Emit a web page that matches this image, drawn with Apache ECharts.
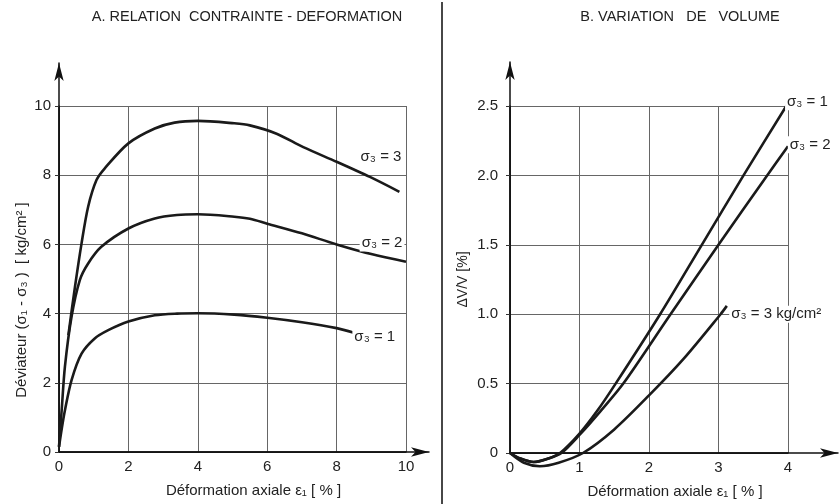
<!DOCTYPE html>
<html>
<head>
<meta charset="utf-8">
<script src="https://cdn.jsdelivr.net/npm/echarts@6/dist/echarts.min.js"></script>
<style>
html,body{margin:0;padding:0;background:#fff}
#main{width:840px;height:504px}
</style>
</head>
<body>
<div id="main"></div>
<script>
// A. deviateur (kg/cm2) en fonction de la deformation axiale (%)
var devSig1 = [[0,0.15],[0.08,0.68],[0.17,1.2],[0.36,2.07],[0.65,2.84],[1.03,3.28],[1.42,3.52],[2.0,3.77],[2.76,3.95],[3.4,4.0],[4.0,4.01],[5.05,3.97],[6.0,3.88],[7.0,3.75],[8.0,3.58],[8.5,3.45]];
var devSig2 = [[0,0.15],[0.08,1.25],[0.17,2.46],[0.36,3.9],[0.6,4.97],[0.84,5.45],[1.22,5.93],[2.0,6.46],[2.76,6.75],[3.4,6.85],[4.0,6.87],[5.05,6.8],[5.5,6.74],[6.0,6.6],[7.0,6.32],[8.0,6.0],[9.0,5.72],[10,5.5]];
var devSig3 = [[0.27,3.38],[0.46,4.77],[0.65,6.03],[0.84,7.09],[1.08,7.86],[1.32,8.2],[2.0,8.92],[2.76,9.35],[3.33,9.52],[4.0,9.57],[5.05,9.5],[5.5,9.44],[6.27,9.2],[7.04,8.81],[8.02,8.38],[8.96,7.95],[9.81,7.52]];

// B. variation de volume (%) en fonction de la deformation axiale (%)
var volSig1 = [[0,0],[0.15,-0.04],[0.34,-0.065],[0.55,-0.04],[0.72,0],[1.0,0.14],[1.25,0.3],[1.52,0.5],[2.16,1.0],[2.76,1.5],[3.36,2.0],[4.0,2.52]];
var volSig2 = [[0,0],[0.15,-0.04],[0.34,-0.065],[0.55,-0.04],[0.74,0],[1.0,0.13],[1.3,0.3],[1.63,0.5],[2.31,1.0],[3.0,1.5],[3.7,2.0],[4.0,2.21]];
var volSig3 = [[0,0],[0.2,-0.07],[0.43,-0.095],[0.7,-0.07],[1.05,0],[1.5,0.17],[2.0,0.415],[2.5,0.68],[3.03,1.0],[3.12,1.06]];

// etiquettes des courbes : texte, x, y (coordonnees des axes)
var devLabels = [['σ₃ = 3', 9.28, 8.52], ['σ₃ = 2', 9.31, 6.04], ['σ₃ = 1', 9.1, 3.33]];
var volLabels = [['σ₃ = 1', 4.28, 2.53], ['σ₃ = 2', 4.32, 2.22], ['σ₃ = 3 kg/cm²', 3.83, 1.0]];

var titles = ['A. RELATION  CONTRAINTE - DEFORMATION', 'B. VARIATION   DE   VOLUME'];

var FONT = 'Liberation Sans, Arial, sans-serif';
var TXT = '#222';

var myChart = echarts.init(document.getElementById('main'), null, {renderer: 'canvas'});

function mainX(idx, max, interval, padLeft) {
    return {
        type: 'value', gridIndex: idx, min: 0, max: max, interval: interval,
        name: 'Déformation axiale ε₁ [ % ]',
        nameLocation: 'middle', nameGap: 31,
        nameTextStyle: {fontFamily: FONT, fontSize: 15, color: TXT, padding: [0, 0, 0, padLeft]},
        axisLine: {show: true, lineStyle: {color: '#111', width: 1.5}},
        axisTick: {show: false},
        axisLabel: {fontFamily: FONT, fontSize: 15, color: TXT, margin: 7},
        splitLine: {show: true, lineStyle: {color: '#666', width: 1}}
    };
}

// axes "fleches" seulement (un peu plus longs que la grille)
function arrowAxis(idx) {
    return {
        type: 'value', gridIndex: idx, min: 0, max: 1,
        axisLine: {show: true, symbol: ['none', 'arrow'], symbolSize: [7, 18], lineStyle: {color: '#111', width: 1.5}},
        axisTick: {show: false}, axisLabel: {show: false}, splitLine: {show: false}
    };
}

function curve(data, xi, yi) {
    return {
        type: 'line', xAxisIndex: xi, yAxisIndex: yi, data: data,
        smooth: 0.3, showSymbol: false, clip: false,
        lineStyle: {color: '#1a1a1a', width: 2.6}, silent: true
    };
}

option = {
    backgroundColor: '#fff',
    animation: false,
    title: [
        {text: titles[0], left: 242, top: 4, textAlign: 'center', textStyle: {fontFamily: FONT, fontSize: 14.5, fontWeight: 'normal', color: TXT}},
        {text: titles[1], left: 675, top: 4, textAlign: 'center', textStyle: {fontFamily: FONT, fontSize: 14.5, fontWeight: 'normal', color: TXT}}
    ],
    grid: [
        {left: 59, top: 106, width: 347, height: 346},
        {left: 510, top: 106, width: 278, height: 347},
        {left: 59, top: 63, width: 370, height: 389},
        {left: 510, top: 62, width: 328, height: 391}
    ],
    xAxis: [
        mainX(0, 10, 2, 42),
        mainX(1, 4, 1, 52),
        arrowAxis(2),
        arrowAxis(3)
    ],
    yAxis: [
        {
            type: 'value', gridIndex: 0, min: 0, max: 10, interval: 2,
            name: 'Déviateur (σ₁ - σ₃ )  [ kg/cm² ]',
            nameLocation: 'middle', nameGap: 30,
            nameTextStyle: {fontFamily: FONT, fontSize: 15, color: TXT, padding: [0, 42, 0, 0]},
            axisLine: {show: true, lineStyle: {color: '#111', width: 1.5}},
            axisTick: {show: true, length: 4, lineStyle: {color: '#333'}},
            axisLabel: {fontFamily: FONT, fontSize: 15, color: TXT, margin: 8},
            splitLine: {show: true, lineStyle: {color: '#666', width: 1}}
        },
        {
            type: 'value', gridIndex: 1, min: 0, max: 2.5, interval: 0.5,
            name: 'ΔV/V [%]',
            nameLocation: 'middle', nameGap: 40,
            nameTextStyle: {fontFamily: FONT, fontSize: 14, color: TXT},
            axisLine: {show: true, lineStyle: {color: '#111', width: 1.5}},
            axisTick: {show: true, length: 4, lineStyle: {color: '#333'}},
            axisLabel: {fontFamily: FONT, fontSize: 15, color: TXT, margin: 12,
                formatter: function (v) { return v === 0 ? '0' : v.toFixed(1); }},
            splitLine: {show: true, lineStyle: {color: '#666', width: 1}}
        },
        arrowAxis(2),
        arrowAxis(3)
    ],
    series: [
        curve(devSig1, 0, 0),
        curve(devSig2, 0, 0),
        curve(devSig3, 0, 0),
        curve(volSig1, 1, 1),
        curve(volSig2, 1, 1),
        curve(volSig3, 1, 1)
    ]
};
myChart.setOption(option);

// etiquettes placees a partir des coordonnees des axes
var graphics = [{
    type: 'line', shape: {x1: 442, y1: 2, x2: 442, y2: 504},
    style: {stroke: '#333', lineWidth: 1.8}
}];
function addLabels(list, gridIndex) {
    for (var i = 0; i < list.length; i++) {
        var p = myChart.convertToPixel({gridIndex: gridIndex}, [list[i][1], list[i][2]]);
        graphics.push({
            type: 'text', x: p[0], y: p[1], z: 100,
            style: {text: list[i][0], fontFamily: FONT, fontSize: 15, fill: TXT,
                align: 'center', verticalAlign: 'middle', backgroundColor: '#fff', padding: [1, 2]}
        });
    }
}
addLabels(devLabels, 0);
addLabels(volLabels, 1);
myChart.setOption({graphic: graphics});
</script>
</body>
</html>
